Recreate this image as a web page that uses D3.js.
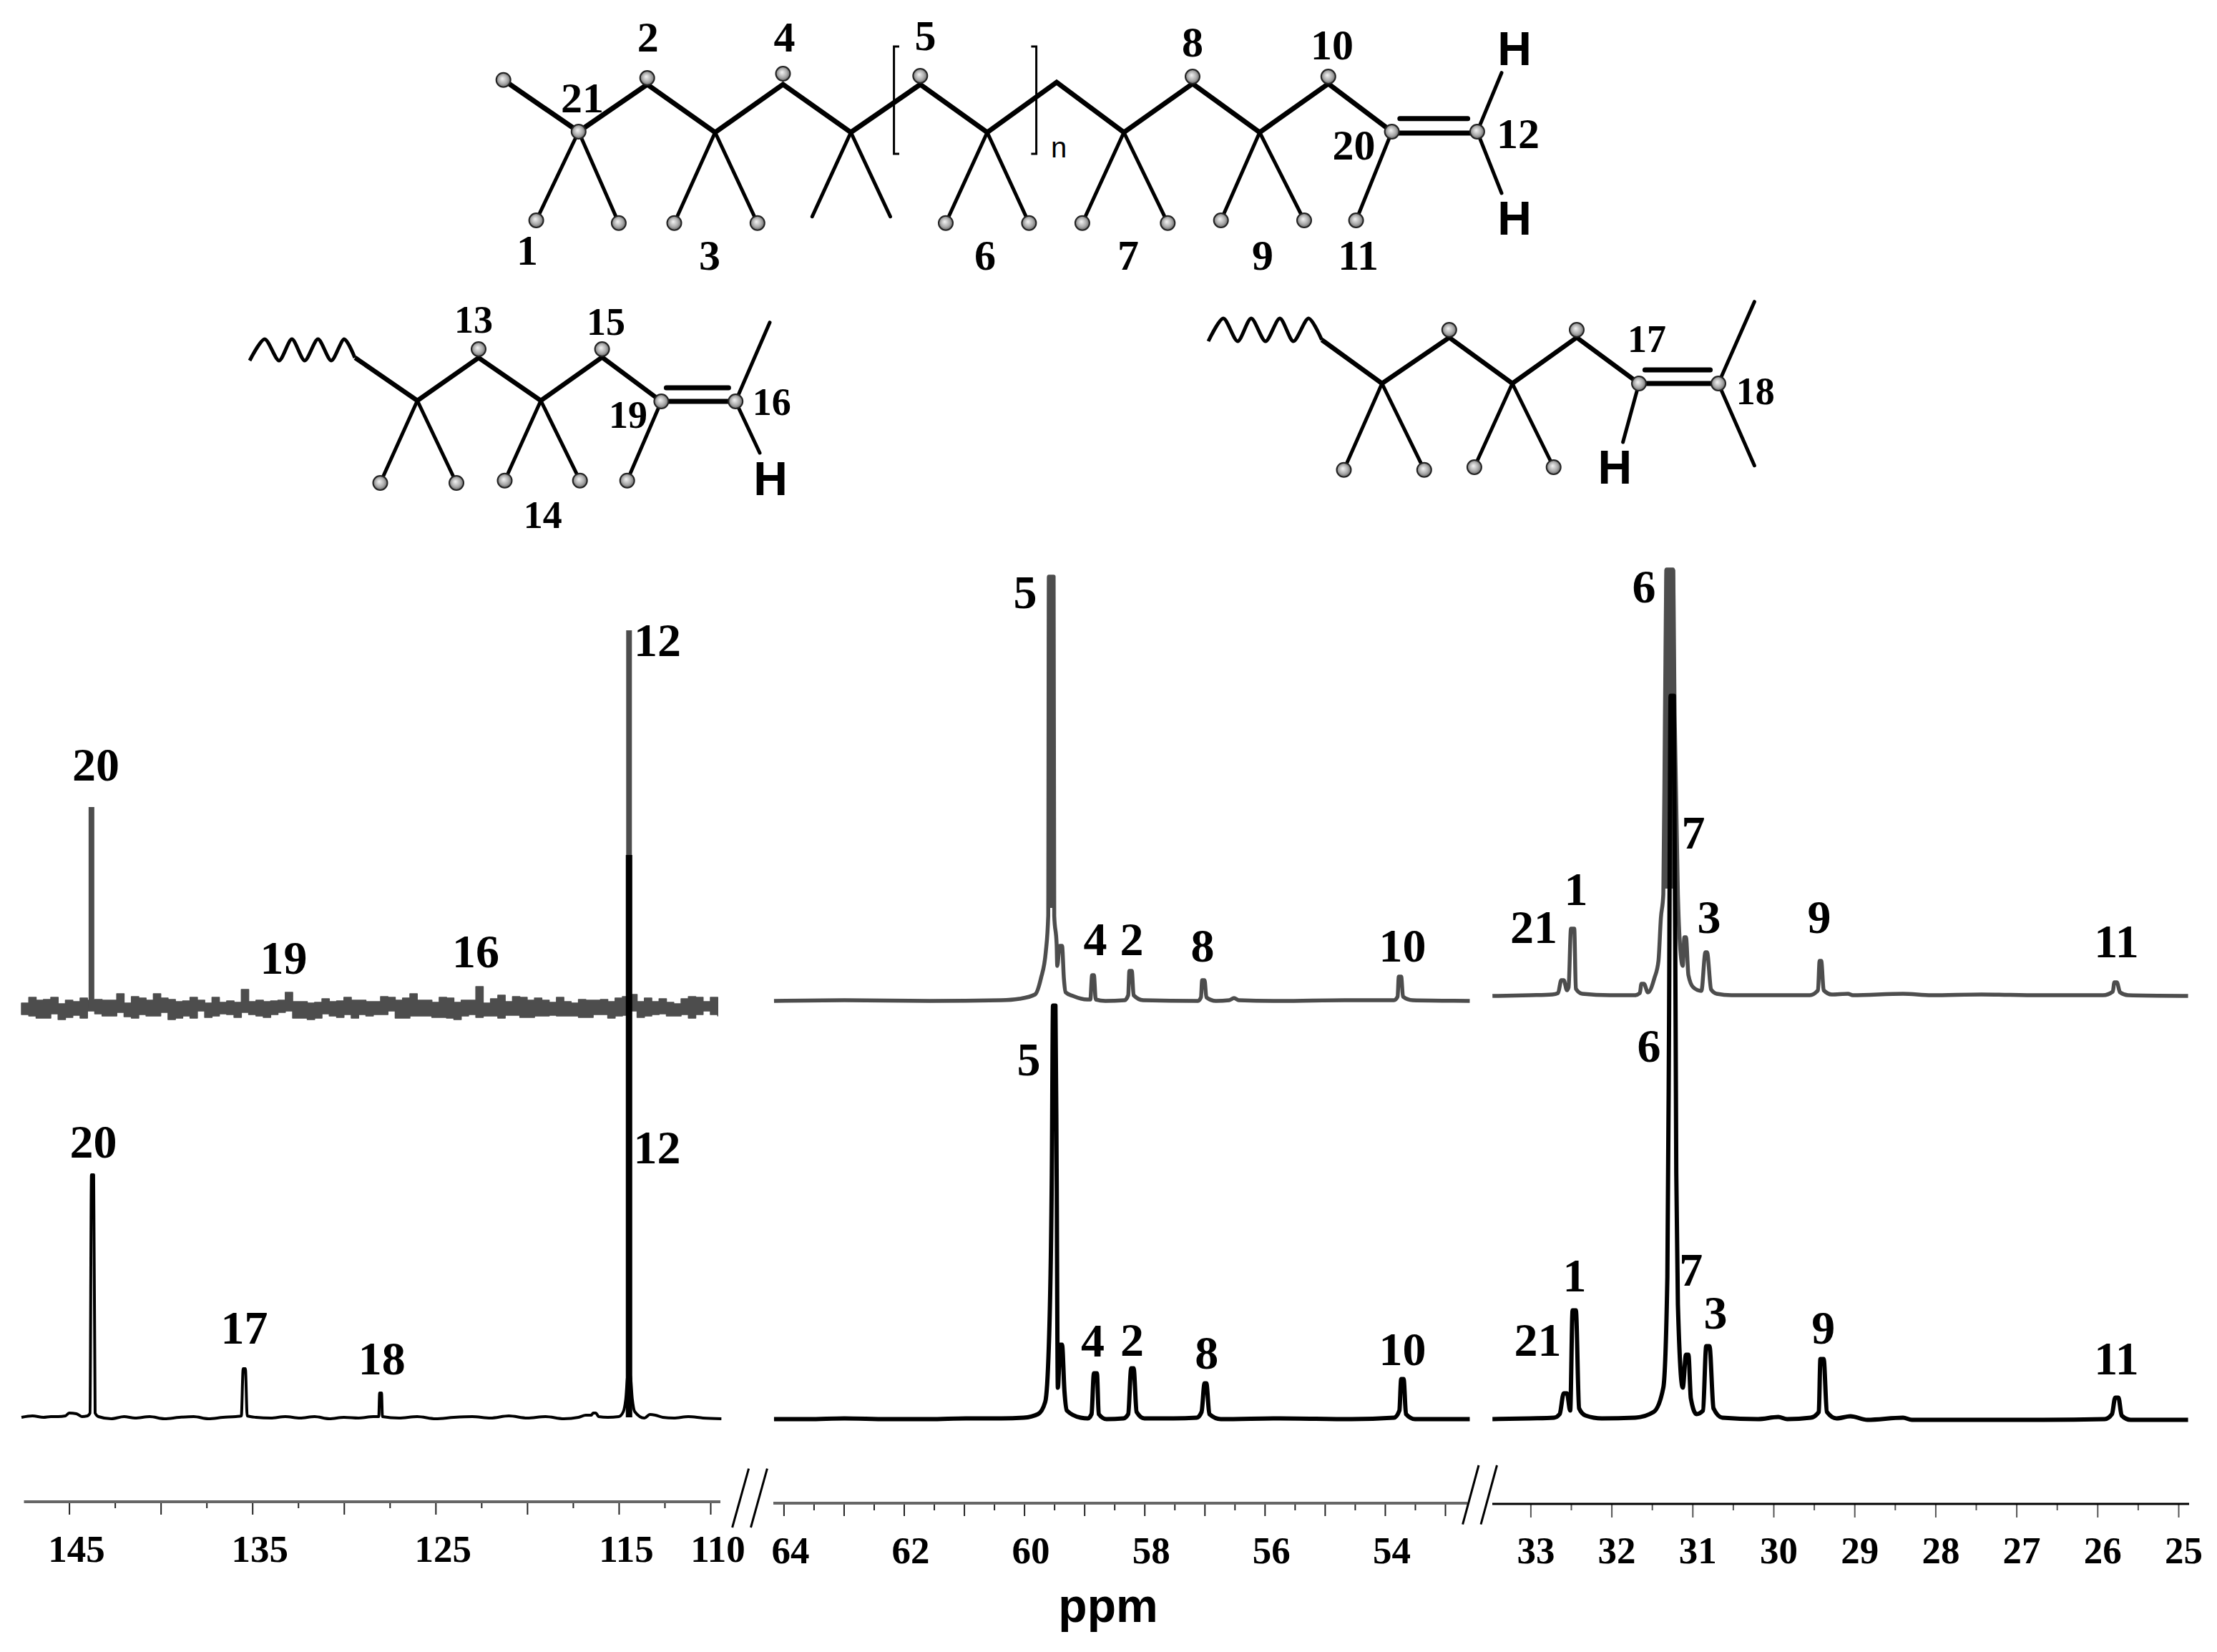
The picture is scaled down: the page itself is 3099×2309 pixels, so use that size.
<!DOCTYPE html>
<html>
<head>
<meta charset="utf-8">
<script src="https://cdn.jsdelivr.net/npm/d3@7"></script>
<style>
    html, body { margin: 0; padding: 0; background: #fff; }
    #chart { width: 3099px; height: 2309px; }
    .num { font-family: "Liberation Serif", serif; font-weight: bold; fill: #000; text-anchor: middle; }
    .sans { font-family: "Liberation Sans", sans-serif; fill: #000; text-anchor: middle; }
</style>
</head>
<body>
<div id="chart"></div>
<script>
// tick values, ppm
var leftMajor = [145, 140, 135, 130, 125, 120, 115, 110];
var leftMinor = [142.5, 137.5, 132.5, 127.5, 122.5, 117.5, 112.5];
var leftLabels = [145, 135, 125, 115, 110];
var midMajor = [64, 63, 62, 61, 60, 59, 58, 57, 56, 55, 54, 53];
var midMinor = [63.5, 62.5, 61.5, 60.5, 59.5, 58.5, 57.5, 56.5, 55.5, 54.5, 53.5];
var midLabels = [64, 62, 60, 58, 56, 54];
var rightMajor = [33, 32, 31, 30, 29, 28, 27, 26, 25];
var rightMinor = [32.5, 31.5, 30.5, 29.5, 28.5, 27.5, 26.5, 25.5];
var rightLabels = [33, 32, 31, 30, 29, 28, 27, 26, 25];

// grey spectrum, left part: noise band read every 0.4 ppm from 147.6
var greyNoiseUpper = [7, 15, 11, 12, 15, 6, 11, 9, 14, 11, 12, 11, 11, 20, 7, 16, 14, 11, 20, 14, 12, 9, 10, 15, 11, 7, 15, 8, 10, 8, 26, 9, 11, 9, 10, 11, 22, 9, 9, 7, 8, 13, 9, 10, 15, 11, 11, 9,
    9, 16, 15, 11, 14, 20, 11, 11, 8, 15, 14, 8, 11, 11, 30, 7, 13, 18, 9, 16, 15, 11, 14, 11, 8, 15, 9, 7, 12, 11, 11, 12, 9, 14, 16, 19, 9, 14, 9, 13, 8, 6, 13, 16, 15, 9, 15, 15];
var greyNoiseLower = [-9, -11, -14, -14, -8, -16, -13, -10, -14, -4, -8, -11, -11, -6, -12, -14, -9, -11, -11, -6, -16, -14, -11, -14, -4, -13, -11, -8, -9, -13, -6, -9, -11, -13, -9, -6, -4, -14, -14, -16, -14, -8, -11, -13, -9, -14, -9, -11,
    -9, -9, -4, -14, -14, -11, -11, -11, -13, -13, -14, -16, -11, -9, -13, -11, -11, -14, -10, -10, -13, -13, -11, -11, -10, -11, -11, -11, -13, -13, -9, -9, -14, -11, -10, -4, -13, -11, -9, -8, -11, -11, -9, -14, -9, -4, -9, -11];

// tall, solid peak cores
var greyPeak20 = [[143.78, 0], [143.78, 281]];
var greyPeak12 = [[114.44, 0], [114.44, 528]];
var blackPeak12 = [[114.44, 0], [114.44, 786]];
var greyPeak5 = [[59.55, 130], [59.55, 593]];
var greyPeak6 = [[31.28, 150], [31.28, 596]];

// [ppm, height above baseline]
var blackLeft = [[147.6, 0], [147, 2], [146.4, 0], [146, 1], [145.6, 1], [145.2, 2], [145, 6], [144.6, 5], [144.3, 1], [144, 2], [143.86, 6], [143.78, 339], [143.66, 339], [143.58, 6], [143.4, 1],
    [142.7, -2], [142, 1], [141.4, -1], [140.6, 1], [139.8, -2], [139, 0], [138.2, 1], [137.4, -2], [136.6, 0], [135.9, 1], [135.6, 2], [135.5, 68], [135.38, 68], [135.28, 2], [134.8, 0], [134, -1], [133.2, 1], [132.4, -1], [131.6, 1], [130.8, -2], [130, 0], [129.2, -1], [128.4, 1], [128.1, 1],
    [128.05, 34], [127.95, 34], [127.9, 1], [127, -1], [126, 1], [125, -2], [124, 0], [123, 1], [122, -1], [121, 2], [120, -1], [119, 1], [118, -2], [117.2, 0], [116.8, 3], [116.5, 3], [116.4, 6], [116.25, 6], [116.1, 1], [115.6, 0], [115, 1], [114.75, 8], [114.62, 25], [114.5, 60], [114.38, 60], [114.26, 25], [114.13, 8], [113.6, -1], [113.3, 4], [113, 3], [112.6, 0], [112, -1], [111.2, 1], [110.4, -1], [109.4, -2]];
var greyMid = [[64.16, 0], [62.99, 1], [61.57, 0], [60.38, 1], [60.08, 3], [59.82, 9], [59.72, 32], [59.64, 69], [59.6, 119], [59.59, 593], [59.51, 593], [59.5, 119], [59.46, 79], [59.45, 49], [59.41, 77], [59.37, 77], [59.34, 32], [59.31, 12], [59.19, 7], [58.95, 2], [58.9, 2], [58.87, 36], [58.84, 36], [58.81, 2], [58.65, 0], [58.33, 1], [58.27, 8], [58.25, 42], [58.21, 42], [58.18, 8], [58.02, 1], [57.11, 0], [57.06, 5], [57.04, 29], [57, 29], [56.97, 5], [56.81, 0], [56.59, 1], [56.51, 4], [56.43, 1], [55.74, 0], [54.67, 1], [53.85, 1], [53.79, 6], [53.77, 34], [53.73, 34], [53.7, 6], [53.54, 1], [52.59, 0]];
var blackMid = [[64.16, 0], [63.59, 0], [62.99, 1], [62.28, 0], [61.57, 0], [60.97, 1], [60.38, 1], [60.01, 2], [59.77, 7], [59.65, 24], [59.59, 102], [59.54, 345], [59.52, 578], [59.48, 578], [59.46, 345], [59.44, 44], [59.4, 104], [59.37, 104], [59.33, 39], [59.29, 12], [59.06, 2], [58.94, 1], [58.88, 7], [58.84, 64], [58.79, 64], [58.76, 7], [58.63, 0], [58.35, 1], [58.27, 7], [58.22, 71], [58.18, 71], [58.13, 10], [58, 1], [57.52, 1], [57.13, 2], [57.05, 10], [57, 50], [56.97, 50], [56.92, 7], [56.73, 0], [55.74, 1], [54.56, 0], [53.85, 2], [53.76, 12], [53.73, 56], [53.69, 56], [53.65, 7], [53.5, 0], [52.59, 0]];
var greyRight = [[33.47, 0], [33, 1], [32.73, 2], [32.66, 4], [32.62, 22], [32.59, 22], [32.55, 8], [32.53, 12], [32.5, 94], [32.46, 94], [32.44, 10], [32.36, 3], [32.02, 1], [31.71, 1], [31.65, 4], [31.63, 17], [31.6, 17], [31.55, 5], [31.47, 25], [31.42, 49], [31.39, 109], [31.36, 142], [31.34, 392], [31.32, 596], [31.24, 596], [31.22, 392], [31.18, 142], [31.16, 82], [31.12, 42], [31.1, 82], [31.08, 82], [31.05, 29], [30.99, 12], [30.89, 7], [30.84, 61], [30.82, 61], [30.77, 9], [30.7, 3], [30.52, 1], [29.55, 1], [29.45, 8], [29.43, 49], [29.41, 49], [29.38, 8], [29.28, 2], [29.08, 3], [29.02, 1], [28.4, 3], [28.05, 1], [27.43, 2], [26.72, 1], [25.93, 1], [25.81, 6], [25.79, 19], [25.76, 19], [25.72, 5], [25.62, 1], [24.88, 0]];
var blackRight = [[33.47, 0], [33, 1], [32.71, 2], [32.64, 7], [32.59, 36], [32.55, 36], [32.51, 12], [32.48, 152], [32.44, 152], [32.4, 15], [32.32, 5], [32.12, 1], [31.71, 2], [31.48, 10], [31.36, 44], [31.31, 199], [31.29, 538], [31.27, 1011], [31.23, 1011], [31.2, 344], [31.18, 160], [31.12, 44], [31.08, 90], [31.05, 90], [31.02, 29], [30.95, 7], [30.87, 12], [30.83, 102], [30.79, 102], [30.74, 15], [30.63, 2], [30.19, 0], [29.94, 3], [29.83, 0], [29.54, 2], [29.44, 10], [29.42, 84], [29.38, 84], [29.34, 10], [29.22, 1], [29.05, 4], [28.84, -1], [28.4, 2], [28.29, -1], [26.67, -1], [25.91, 0], [25.82, 7], [25.78, 30], [25.74, 30], [25.7, 5], [25.59, -1], [24.88, -1]];

// peak labels
var peakTexts = ['20', '19', '16', '12', '20', '17', '18', '12', '5', '4', '2', '8', '10', '5', '4', '2', '8', '10', '21', '1', '6', '7', '3', '9', '11', '21', '1', '6', '7', '3', '9', '11'];

var Chart = function () {

    var _Chart = function (opts) {
        this.element = opts.element;
        this.__init();
    }

    _Chart.prototype = {
        __init: function () {
            this.width = 3099;
            this.height = 2309;
            this.svg = d3.select(this.element)
                .append('svg')
                .attr('width', this.width)
                .attr('height', this.height);

            var grad = this.svg.append('defs').append('radialGradient')
                .attr('id', 'ball')
                .attr('cx', 0.5).attr('cy', 0.5).attr('r', 0.55)
                .attr('fx', 0.42).attr('fy', 0.4);
            grad.append('stop').attr('offset', '0%').attr('stop-color', '#f4f4f4');
            grad.append('stop').attr('offset', '60%').attr('stop-color', '#a8a8a8');
            grad.append('stop').attr('offset', '100%').attr('stop-color', '#555');

            this.__createScales();
            this.__addTraces();
            this.__addAxes();
            this.__addPeakLabels();
            this.__addMolecules();
        },
        __createScales: function () {
            // ppm axes, one per broken segment
            this.xLeft = d3.scaleLinear().domain([145, 110]).range([96.6, 993]);
            this.xMid = d3.scaleLinear().domain([64, 53]).range([1095.4, 2020]);
            this.xRight = d3.scaleLinear().domain([33, 25]).range([2139.4, 3045]);
        },
        __y: function (baseline) {
            return d3.scaleLinear().domain([0, 1000]).range([baseline, baseline - 1000]);
        },
        __addTrace: function (data, x, baseline, color, width, curve) {
            var y = this.__y(baseline);
            var line = d3.line()
                .curve(curve || d3.curveLinear)
                .x(function (d) { return x(d[0]); })
                .y(function (d) { return y(d[1]); });
            this.svg.append('path')
                .attr('d', line(data))
                .attr('fill', 'none')
                .attr('stroke', color)
                .attr('stroke-width', width)
                .attr('stroke-linejoin', 'round');
        },
        __addTraces: function () {
            var _this = this;
            var grey = '#4d4d4d';
            var smooth = d3.curveMonotoneX;

            // noisy band of the upper left spectrum
            var yTop = this.__y(1409);
            var band = d3.area()
                .curve(d3.curveStepAfter)
                .x(function (d, i) { return _this.xLeft(147.6 - 0.4 * i); })
                .y0(function (d, i) { return yTop(greyNoiseLower[i]); })
                .y1(function (d) { return yTop(d); });
            this.svg.append('path').attr('d', band(greyNoiseUpper))
                .attr('fill', grey)
                .attr('stroke', grey).attr('stroke-width', 1.5).attr('stroke-linejoin', 'round');
            this.__addTrace(greyPeak20, this.xLeft, 1409, grey, 8);
            this.__addTrace(greyPeak12, this.xLeft, 1409, grey, 8);

            this.__addTrace(greyMid, this.xMid, 1399, grey, 5.5, smooth);
            this.__addTrace(greyPeak5, this.xMid, 1399, grey, 10);
            this.__addTrace(greyRight, this.xRight, 1392, grey, 5.5, smooth);
            this.__addTrace(greyPeak6, this.xRight, 1392, grey, 15);

            this.__addTrace(blackLeft, this.xLeft, 1981, '#000', 4, smooth);
            this.__addTrace(blackPeak12, this.xLeft, 1981, '#000', 9);
            this.__addTrace(blackMid, this.xMid, 1983.5, '#000', 6, smooth);
            this.__addTrace(blackRight, this.xRight, 1983.5, '#000', 6, smooth);
        },
        __addAxis: function (o) {
            var g = this.svg.append('g').attr('transform', 'translate(0,' + o.y + ')');

            var major = d3.axisBottom(o.x)
                .tickValues(o.major)
                .tickSize(o.majorLen)
                .tickPadding(o.labelY - o.majorLen)
                .tickFormat(function (d) { return o.labels.indexOf(d) >= 0 ? d : ''; });
            var minor = d3.axisBottom(o.x)
                .tickValues(o.minor)
                .tickSize(o.minorLen)
                .tickFormat('');

            var a = g.append('g').call(major);
            var b = g.append('g').call(minor);
            a.select('.domain').remove();
            b.select('.domain').remove();
            g.selectAll('.tick line').attr('stroke', o.tickColor).attr('stroke-width', 2);
            a.selectAll('text')
                .attr('class', 'num')
                .attr('dx', o.labelDx)
                .attr('dy', 0)
                .attr('y', o.labelY)
                .attr('font-size', 53);

            g.append('line')
                .attr('x1', o.from).attr('x2', o.to)
                .attr('y1', 0).attr('y2', 0)
                .attr('stroke', o.lineColor)
                .attr('stroke-width', o.lineWidth);
        },
        __addAxes: function () {
            var _this = this;
            this.__addAxis({
                x: this.xLeft, major: leftMajor, minor: leftMinor, labels: leftLabels,
                y: 2099, from: 33.5, to: 1007, majorLen: 18, minorLen: 9, labelY: 84, labelDx: 10,
                tickColor: '#222', lineColor: '#666', lineWidth: 4
            });
            this.__addAxis({
                x: this.xMid, major: midMajor, minor: midMinor, labels: midLabels,
                y: 2101, from: 1081, to: 2051, majorLen: 18, minorLen: 10, labelY: 84, labelDx: 9,
                tickColor: '#222', lineColor: '#666', lineWidth: 4
            });
            this.__addAxis({
                x: this.xRight, major: rightMajor, minor: rightMinor, labels: rightLabels,
                y: 2102, from: 2086, to: 3060, majorLen: 19, minorLen: 9, labelY: 83, labelDx: 7,
                tickColor: '#555', lineColor: '#000', lineWidth: 3
            });

            // axis break marks
            [[1046.6, 2052.7, 1023.6, 2135], [1072.4, 2052.7, 1049.5, 2135],
             [2067, 2048, 2044.6, 2130.7], [2092.5, 2048, 2070, 2130.7]].forEach(function (m) {
                _this.svg.append('line')
                    .attr('x1', m[0]).attr('y1', m[1])
                    .attr('x2', m[2]).attr('y2', m[3])
                    .attr('stroke', '#000').attr('stroke-width', 3);
            });

            this.svg.append('text')
                .attr('class', 'sans')
                .attr('x', 1549).attr('y', 2267)
                .attr('font-size', 66).attr('font-weight', 'bold')
                .text('ppm');
        },
        __addPeakLabels: function () {
            var spots = [
                [134, 1091], [396.5, 1360.6], [665, 1352], [919, 917],
                [130.6, 1617.5], [341.5, 1877.8], [533.8, 1920.5], [918.4, 1625.7],
                [1433, 850], [1531, 1335], [1582, 1335], [1681, 1343.6], [1960.5, 1343.6],
                [1438, 1502.6], [1527.5, 1896], [1582.5, 1895], [1686.7, 1913], [1960.5, 1908],
                [2144, 1318], [2203, 1265], [2298, 842], [2367, 1186], [2389, 1304], [2543, 1304], [2958.5, 1337.8],
                [2149.5, 1895], [2201, 1805], [2305, 1484], [2363.7, 1797], [2398, 1856.5], [2548.7, 1877.8], [2958.5, 1920.5]
            ];
            var svg = this.svg;
            peakTexts.forEach(function (t, i) {
                svg.append('text')
                    .attr('class', 'num')
                    .attr('x', spots[i][0]).attr('y', spots[i][1])
                    .attr('font-size', 66)
                    .text(t);
            });
        },
        __bonds: function (list, width) {
            var svg = this.svg;
            list.forEach(function (b) {
                svg.append('line')
                    .attr('x1', b[0]).attr('y1', b[1])
                    .attr('x2', b[2]).attr('y2', b[3])
                    .attr('stroke', '#000').attr('stroke-width', width)
                    .attr('stroke-linecap', 'round');
            });
        },
        __zigzag: function (pts, width) {
            this.svg.append('path')
                .attr('d', d3.line()(pts))
                .attr('fill', 'none')
                .attr('stroke', '#000').attr('stroke-width', width)
                .attr('stroke-linejoin', 'miter');
        },
        __balls: function (list) {
            var svg = this.svg;
            list.forEach(function (p) {
                svg.append('circle')
                    .attr('cx', p[0]).attr('cy', p[1]).attr('r', 10)
                    .attr('fill', 'url(#ball)')
                    .attr('stroke', '#222').attr('stroke-width', 2);
            });
        },
        __wave: function (pts) {
            this.svg.append('path')
                .attr('d', d3.line().curve(d3.curveCardinal.tension(0.2))(pts))
                .attr('fill', 'none')
                .attr('stroke', '#000').attr('stroke-width', 5);
        },
        __texts: function (list, size) {
            var svg = this.svg;
            list.forEach(function (t) {
                svg.append('text')
                    .attr('class', 'num')
                    .attr('x', t[1]).attr('y', t[2])
                    .attr('font-size', size)
                    .text(t[0]);
            });
        },
        __hs: function (list) {
            var svg = this.svg;
            list.forEach(function (p) {
                svg.append('text')
                    .attr('class', 'sans')
                    .attr('x', p[0]).attr('y', p[1])
                    .attr('font-size', 66).attr('font-weight', 'bold')
                    .text('H');
            });
        },
        __addMolecules: function () {
            // main chain
            this.__zigzag([[703.7, 111.7], [808.8, 184], [904.7, 118], [999.6, 185], [1094.5, 118], [1189.4, 185], [1286.3, 118], [1380, 185], [1477, 115], [1571, 185], [1667, 117], [1760.8, 185], [1856.8, 117], [1945.6, 184]], 7);
            this.__bonds([
                [808.8, 184, 749.6, 308], [808.8, 184, 864.9, 311.7],
                [999.6, 185, 942.5, 311.7], [999.6, 185, 1058.8, 311.7],
                [1189.4, 185, 1135.3, 302.7], [1189.4, 185, 1244.5, 302.7],
                [1380, 185, 1322, 311.7], [1380, 185, 1438.4, 311.7],
                [1571, 185, 1512.9, 311.7], [1571, 185, 1632.3, 311.7],
                [1760.8, 185, 1706.7, 308], [1760.8, 185, 1823, 308],
                [1945.6, 184, 1895.6, 308],
                [2064.9, 184, 2099, 101.7], [2064.9, 184, 2099, 270]
            ], 5);
            this.__bonds([[1945.6, 186, 2064.9, 186], [1956.8, 165.7, 2051.6, 165.7]], 7);
            this.__zigzag([[1257, 65], [1249.6, 65], [1249.6, 215], [1257, 215]], 3);
            this.__zigzag([[1441.4, 65], [1448.6, 65], [1448.6, 215], [1441.4, 215]], 3);
            this.__balls([[703.7, 111.7], [808.8, 184], [904.7, 109], [1094.5, 103], [1286.3, 106], [1667, 107], [1856.8, 107],
                [749.6, 308], [864.9, 311.7], [942.5, 311.7], [1058.8, 311.7], [1322, 311.7], [1438.4, 311.7],
                [1512.9, 311.7], [1632.3, 311.7], [1706.7, 308], [1823, 308], [1895.6, 308], [1945.6, 184], [2064.9, 184]]);
            this.__texts([['2', 905.7, 71.7], ['4', 1096.5, 71.7], ['5', 1293.5, 70], ['8', 1667, 79], ['10', 1862, 83],
                ['21', 813.9, 157], ['12', 2122, 207], ['20', 1892.5, 222.7],
                ['1', 737, 370], ['3', 992, 377], ['6', 1377, 377], ['7', 1577, 377], ['9', 1765, 377], ['11', 1898.6, 377]], 60);
            this.__hs([[2117, 91], [2117, 328]]);
            this.svg.append('text')
                .attr('class', 'sans')
                .attr('x', 1480).attr('y', 220)
                .attr('font-size', 40)
                .text('n');

            // chain end with the methyl on the far carbon
            this.__wave([[349, 504], [370, 474], [390, 504], [408, 474], [426, 504], [444.5, 474], [463, 504], [481, 474], [496, 500]]);
            this.__zigzag([[496.4, 500], [583.4, 560], [669, 500], [756, 560], [841.6, 499.3], [924.4, 561]], 6.5);
            this.__bonds([
                [583.4, 560, 531.5, 675], [583.4, 560, 638, 675],
                [756, 560, 705.5, 671.7], [756, 560, 810.7, 671.7],
                [924.4, 561, 876.7, 671.7],
                [1028.2, 561, 1076, 450.7], [1028.2, 561, 1062, 633]
            ], 5);
            this.__bonds([[924.4, 561, 1028.2, 561], [931.4, 542, 1018.4, 542]], 7);
            this.__balls([[669, 488], [841.6, 488], [924.4, 561], [1028.2, 561], [531.5, 675], [638, 675], [705.5, 671.7], [810.7, 671.7], [876.7, 671.7]]);
            this.__texts([['13', 662, 465], ['15', 847, 468], ['16', 1078.7, 580], ['19', 878, 598], ['14', 758.8, 738]], 54);
            this.__hs([[1077, 692]]);

            // chain end with two methyls on the far carbon
            this.__wave([[1689, 477], [1710, 445], [1730, 477], [1749, 445], [1769, 477], [1789, 445], [1808, 477], [1829, 445], [1847.6, 475]]);
            this.__zigzag([[1847.6, 475], [1931.8, 536], [2025.8, 471.7], [2114, 536], [2204, 471.7], [2291, 536]], 6.5);
            this.__bonds([
                [1931.8, 536, 1878.5, 656.7], [1931.8, 536, 1990.8, 656.7],
                [2114, 536, 2060.9, 653], [2114, 536, 2171.7, 653],
                [2291, 536, 2268.6, 618],
                [2402, 536, 2452.4, 421.7], [2402, 536, 2452.4, 650.7]
            ], 5);
            this.__bonds([[2291, 536, 2402, 536], [2299.4, 517, 2390.6, 517]], 7);
            this.__balls([[2025.8, 461], [2204, 461], [2291, 536], [2402, 536], [1878.5, 656.7], [1990.8, 656.7], [2060.9, 653], [2171.7, 653]]);
            this.__texts([['17', 2302, 491.7], ['18', 2453.8, 565]], 54);
            this.__hs([[2257.4, 676]]);
        }
    }

    return _Chart;
}.call(this);

new Chart({ element: document.getElementById('chart') });
</script>
</body>
</html>
